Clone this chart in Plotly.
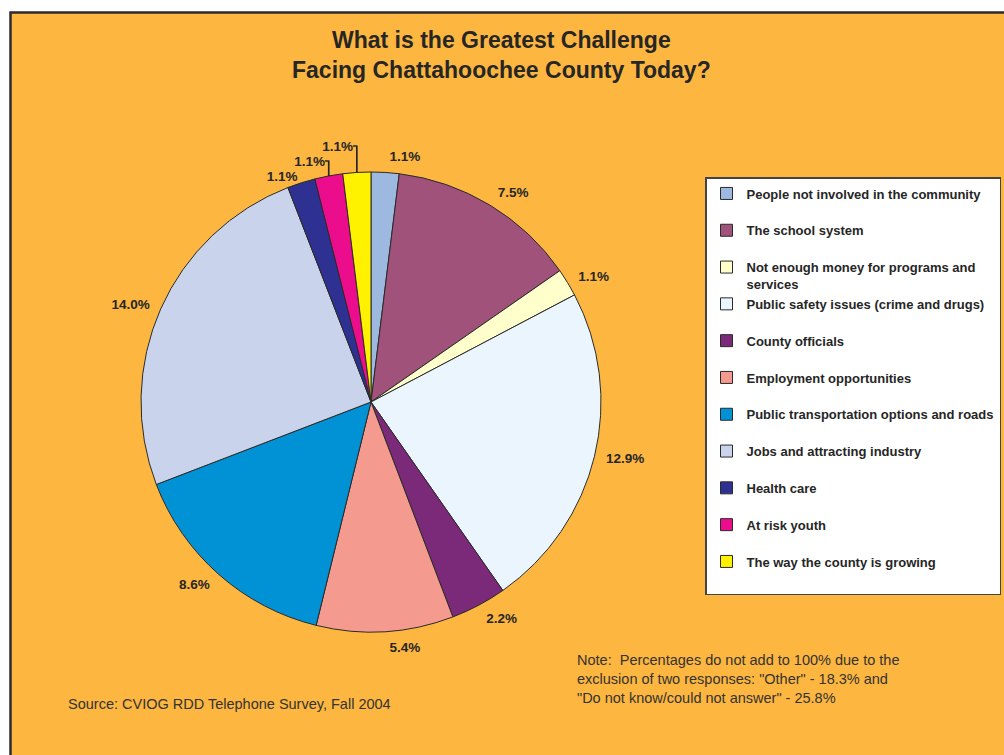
import plotly.graph_objects as go

# Survey responses, clockwise from 12 o'clock
categories = [
    "People not involved in the community",
    "The school system",
    "Not enough money for programs and<br>services",
    "Public safety issues (crime and drugs)",
    "County officials",
    "Employment opportunities",
    "Public transportation options and roads",
    "Jobs and attracting industry",
    "Health care",
    "At risk youth",
    "The way the county is growing",
]
percentages = [1.1, 7.5, 1.1, 12.9, 2.2, 5.4, 8.6, 14.0, 1.1, 1.1, 1.1]
slice_colors = [
    "#9DB9E0", "#A0527A", "#FFFFCC", "#EAF5FD", "#7A2A79", "#F59A8E",
    "#0092D5", "#C9D4EC", "#2E3092", "#EC0D8C", "#FFF200",
]
# the three narrow slices at the top left get leader lines from the slice edge
with_leader = [False, False, False, False, False, False, False, False, True, True, True]

W, H = 1004, 755
BG = "#FDB63F"
INK = "#262626"
FONT = "Liberation Sans, Arial, sans-serif"

# pie geometry (pixels): centre and radius; most labels sit on a slightly wider ring
CX, CY, R = 371, 402, 230
R_LABEL = R + 8


def domain_for(radius):
    return dict(x=[(CX - radius) / W, (CX + radius) / W],
                y=[(H - CY - radius) / H, (H - CY + radius) / H])


# pad single-line legend entries so every entry takes the same slot height
legend_labels = ["<b>" + (c if "<br>" in c else c + "<br> ") + "</b>" for c in categories]
label_font = dict(family=FONT, size=13.5, color=INK)

fig = go.Figure()

# visible slices (labels only for the leader-line slices)
fig.add_trace(go.Pie(
    labels=legend_labels,
    values=percentages,
    sort=False,
    direction="clockwise",
    rotation=0,
    marker=dict(colors=slice_colors, line=dict(color="#2a2a2a", width=1)),
    texttemplate="<b>%{value:.1f}%</b>",
    textposition=["outside" if f else "none" for f in with_leader],
    outsidetextfont=label_font,
    hoverinfo="skip",
    domain=domain_for(R),
))

# remaining value labels, outside a slightly larger transparent ring
fig.add_trace(go.Pie(
    labels=legend_labels,
    values=percentages,
    sort=False,
    direction="clockwise",
    rotation=0,
    marker=dict(colors=["rgba(0,0,0,0)"] * len(percentages),
                line=dict(color="rgba(0,0,0,0)", width=0)),
    texttemplate="<b>%{value:.1f}%</b>",
    textposition=["none" if f else "outside" for f in with_leader],
    outsidetextfont=label_font,
    hoverinfo="skip",
    showlegend=False,
    domain=domain_for(R_LABEL),
))

# orange panel with a dark frame on the top and left
fig.add_shape(type="rect", xref="paper", yref="paper",
              x0=10.5 / W, x1=1.02, y0=-0.02, y1=1 - 12.5 / H,
              fillcolor=BG, line=dict(color="#2b2b2b", width=2.5), layer="below")

fig.add_annotation(
    text="<b>What is the Greatest Challenge<br>Facing Chattahoochee County Today?</b>",
    xref="paper", yref="paper", x=501 / W, y=1 - 55 / H,
    xanchor="center", yanchor="middle",
    showarrow=False, align="center",
    font=dict(family=FONT, size=23, color=INK),
)

fig.add_annotation(
    text=("Note:  Percentages do not add to 100% due to the<br>"
          "exclusion of two responses: \"Other\" - 18.3% and<br>"
          "\"Do not know/could not answer\" - 25.8%"),
    xref="paper", yref="paper", x=575 / W, y=1 - 650 / H,
    xanchor="left", yanchor="top", showarrow=False, align="left",
    font=dict(family=FONT, size=14.5, color="#333333"),
)

fig.add_annotation(
    text="Source: CVIOG RDD Telephone Survey, Fall 2004",
    xref="paper", yref="paper", x=66 / W, y=1 - 704 / H,
    xanchor="left", yanchor="middle", showarrow=False,
    font=dict(family=FONT, size=14.5, color="#333333"),
)

fig.update_layout(
    width=W, height=H,
    margin=dict(l=0, r=0, t=0, b=0),
    paper_bgcolor="white",
    plot_bgcolor="white",
    showlegend=True,
    legend=dict(
        x=1 - 3 / W, y=1 - 177 / H, xanchor="right", yanchor="top",
        bgcolor="white", bordercolor="#444444", borderwidth=1.5,
        valign="top", itemwidth=30,
        font=dict(family=FONT, size=13, color=INK),
    ),
)

fig.write_html("out.html")
